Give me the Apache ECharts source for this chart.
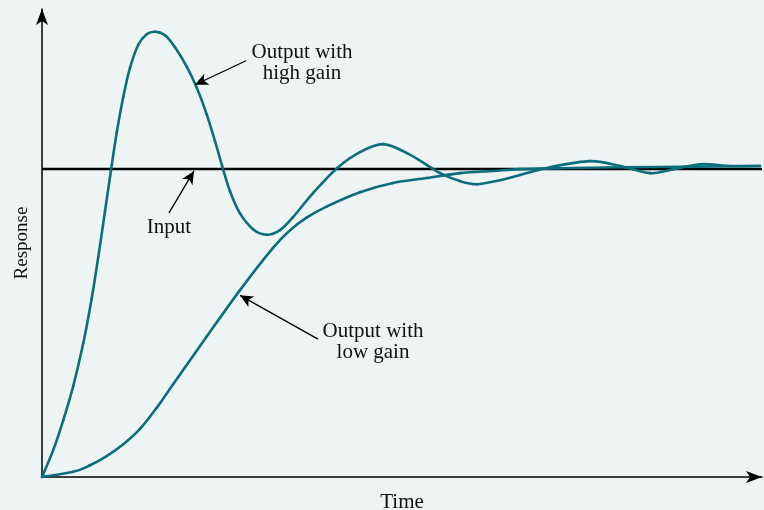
<!DOCTYPE html>
<html>
<head>
<meta charset="utf-8">
<script src="https://cdn.jsdelivr.net/npm/echarts@6/dist/echarts.min.js"></script>
<style>
html,body{margin:0;padding:0;background:#eef4f4;}
#c{width:764px;height:510px;}
</style>
</head>
<body>
<div id="c"></div>
<script>
// Time (arbitrary units) and response (input = 1)
const highGainT = [0, 1.13, 2.13, 3.13, 4.13, 4.97, 5.63, 6.3, 6.9, 7.47, 8.13, 8.8, 9.63, 10.47, 11.3, 12.3, 13.3, 14.47, 15.47, 16.47, 17.3, 18.07, 18.8, 19.8, 21.13, 22.47, 23.8, 25.1, 27.1, 29.5, 31.8, 34.1, 36.5, 38.5, 39.8, 41.8, 43.5, 45.8, 47.8, 50.8, 54.8, 57.8, 60.8, 62.8, 65.8, 68.8, 71.8];
const highGainR = [0, 0.088, 0.185, 0.296, 0.435, 0.580, 0.715, 0.863, 0.997, 1.118, 1.235, 1.329, 1.404, 1.438, 1.446, 1.435, 1.396, 1.333, 1.265, 1.178, 1.091, 1.004, 0.928, 0.856, 0.804, 0.787, 0.802, 0.844, 0.922, 1.003, 1.055, 1.081, 1.052, 1.013, 0.987, 0.961, 0.951, 0.964, 0.981, 1.006, 1.026, 1.010, 0.987, 0.997, 1.016, 1.010, 1.010];
const lowGainT = [0, 3.13, 4.8, 6.47, 8.13, 9.8, 11.5, 13.13, 16.47, 19.8, 23.1, 24.8, 26.5, 28.5, 31.8, 35.1, 38.5, 41.8, 45.1, 47.8, 51.8, 57.8, 65.8, 71.8];
const lowGainR = [0, 0.017, 0.038, 0.068, 0.106, 0.156, 0.226, 0.302, 0.456, 0.607, 0.744, 0.801, 0.843, 0.879, 0.925, 0.955, 0.971, 0.987, 0.994, 1.0, 1.003, 1.006, 1.008, 1.010];
const inputT = [0, 72];
const inputR = [1, 1];

const zip = (a, b) => a.map((v, i) => [v, b[i]]);
const teal = '#0b6e7c';
const font = 'Liberation Serif';
const txtFont = '21px "Liberation Serif"';

// Smooth curve through the data points (Catmull-Rom drawn as Bezier segments), placed via the axes
function smoothCurve(data, color) {
  return function (params, api) {
    if (params.dataIndex !== 0) return null;
    const p = data.map(d => api.coord(d));
    const n = p.length;
    const children = [];
    for (let i = 0; i < n - 1; i++) {
      const p0 = p[Math.max(i - 1, 0)], p1 = p[i], p2 = p[i + 1], p3 = p[Math.min(i + 2, n - 1)];
      children.push({
        type: 'bezierCurve',
        shape: {
          x1: p1[0], y1: p1[1], x2: p2[0], y2: p2[1],
          cpx1: p1[0] + (p2[0] - p0[0]) / 6, cpy1: p1[1] + (p2[1] - p0[1]) / 6,
          cpx2: p2[0] - (p3[0] - p1[0]) / 6, cpy2: p2[1] - (p3[1] - p1[1]) / 6
        },
        style: {stroke: color, lineWidth: 2.6, fill: null, lineCap: 'round'}
      });
    }
    return {type: 'group', children: children};
  };
}

const highData = zip(highGainT, highGainR);
const lowData = zip(lowGainT, lowGainR);

const chart = echarts.init(document.getElementById('c'), null, {renderer: 'canvas'});
const arrowLine = (from, to) => [{coord: from}, {coord: to}];

chart.setOption({
  backgroundColor: '#eef4f4',
  animation: false,
  grid: {left: 42, right: 2, top: 9, bottom: 33, containLabel: false, outerBoundsMode: 'none'},
  xAxis: {
    type: 'value', min: 0, max: 72,
    name: 'Time', nameLocation: 'middle', nameGap: 15,
    nameTextStyle: {fontFamily: font, fontSize: 21, color: '#111'},
    axisLine: {show: true, symbol: ['none', 'arrow'], symbolSize: [9, 16], lineStyle: {color: '#000', width: 1.5}},
    axisTick: {show: false}, axisLabel: {show: false}, splitLine: {show: false}
  },
  yAxis: {
    type: 'value', min: 0, max: 1.52,
    name: 'Response', nameLocation: 'middle', nameGap: 10, nameRotate: 90,
    nameTextStyle: {fontFamily: font, fontSize: 19, color: '#111'},
    axisLine: {show: true, symbol: ['none', 'arrow'], symbolSize: [9, 16], lineStyle: {color: '#000', width: 1.5}},
    axisTick: {show: false}, axisLabel: {show: false}, splitLine: {show: false}
  },
  series: [
    {
      name: 'Input', type: 'line', data: zip(inputT, inputR), showSymbol: false,
      lineStyle: {color: '#000', width: 2.5}, z: 2,
      markLine: {
        silent: true, symbol: ['none', 'arrow'], symbolSize: [9, 13], label: {show: false},
        lineStyle: {color: '#000', width: 1.3, type: 'solid'},
        data: [
          arrowLine([20.4, 1.352], [15.3, 1.274]),
          arrowLine([12.7, 0.858], [15.2, 0.994]),
          arrowLine([27.6, 0.448], [19.8, 0.590])
        ]
      }
    },
    {
      name: 'Output with high gain', type: 'custom', data: highData,
      renderItem: smoothCurve(highData, teal), z: 3, silent: true
    },
    {
      name: 'Output with low gain', type: 'custom', data: lowData,
      renderItem: smoothCurve(lowData, teal), z: 3, silent: true
    }
  ],
  graphic: [
    {type: 'text', x: 302, y: 42, style: {text: 'Output with\nhigh gain', font: txtFont, fill: '#111', align: 'center', lineHeight: 21}},
    {type: 'text', x: 169, y: 217, style: {text: 'Input', font: txtFont, fill: '#111', align: 'center'}},
    {type: 'text', x: 373, y: 321, style: {text: 'Output with\nlow gain', font: txtFont, fill: '#111', align: 'center', lineHeight: 21}}
  ]
});
</script>
</body>
</html>
